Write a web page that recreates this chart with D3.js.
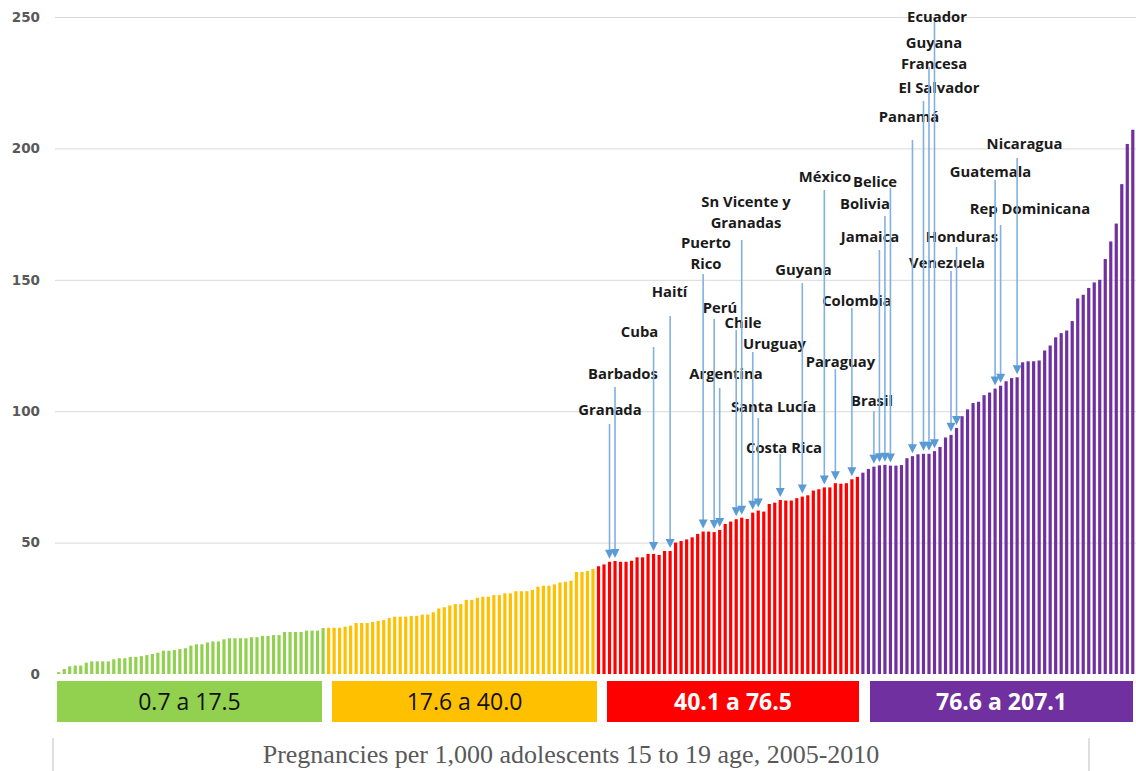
<!DOCTYPE html>
<html>
<head>
<meta charset="utf-8">
<script src="https://cdn.jsdelivr.net/npm/d3@7"></script>
<style>
  html, body { margin: 0; padding: 0; background: #fff; }
  svg { display: block; }
</style>
</head>
<body>
<svg id="chart" width="1136" height="771"></svg>
<script>
// ---------------- DATA ----------------
const groupNames = ["0.7 a 17.5", "17.6 a 40.0", "40.1 a 76.5", "76.6 a 207.1"];
const yTicks = [0, 50, 100, 150, 200, 250];

const greenValues = [0.7,1.9,2.9,3.2,3.2,4.3,4.8,4.8,4.8,4.8,5.6,6.0,6.0,6.5,6.5,6.8,7.2,7.6,8.1,8.9,8.9,9.1,9.5,9.8,
  10.8,11.3,11.3,12.0,12.4,12.4,13.2,13.6,13.6,13.6,13.6,14.0,14.0,14.5,14.5,14.8,14.8,16.0,16.0,16.0,16.0,16.5,16.5,16.5,17.5];
const yellowValues = [17.6,17.6,17.6,18.0,18.4,19.4,19.4,19.4,19.8,20.2,20.5,21.3,21.8,21.8,21.8,22.1,22.1,22.6,22.6,23.5,24.9,25.4,26.1,26.6,
  26.6,28.2,28.2,29.0,29.4,29.4,30.0,30.0,30.7,30.7,31.5,31.5,31.5,32.0,33.2,33.6,33.6,34.1,34.8,35.1,35.5,38.8,38.8,39.2,40.0];
const redValues = [41.0,41.7,42.7,43.0,42.7,42.7,43.1,44.4,44.4,45.7,45.7,45.3,46.8,46.8,50.0,50.6,51.2,52.0,53.3,54.2,54.2,54.0,54.8,57.1,
  58.0,58.9,59.5,59.0,61.4,62.2,61.8,64.7,65.2,66.2,66.0,66.0,66.9,67.5,68.0,69.8,70.3,71.0,71.0,72.6,72.4,72.6,74.1,75.0];
const purpleValues = [76.6,78.0,78.9,79.4,79.6,79.3,79.3,79.5,82.1,82.9,83.6,83.8,83.8,84.8,86.4,90.0,91.0,93.6,98.1,100.7,103.1,103.6,106.1,107.1,
  108.6,109.7,111.4,112.6,112.9,118.6,119.0,119.0,119.3,123.1,125.0,128.1,129.7,130.7,134.3,142.9,144.3,146.9,149.0,150.0,157.9,164.6,171.4,186.4,201.7,207.1];

// annotated countries (name lines) and the bar (rank index) they point at
const labelNames = [["Granada"],["Barbados"],["Cuba"],["Haití"],["Puerto","Rico"],["Perú"],["Chile"],["Sn Vicente y","Granadas"],
  ["Uruguay"],["Argentina"],["Santa Lucía"],["Costa Rica"],["Guyana"],["México"],["Paraguay"],["Colombia"],["Brasil"],
  ["Jamaica"],["Bolivia"],["Belice"],["Panamá"],["El Salvador"],["Guyana","Francesa"],["Ecuador"],["Venezuela"],["Honduras"],
  ["Guatemala"],["Rep Dominicana"],["Nicaragua"]];
const labelBars = [100,101,108,111,117,119,123,124,126,120,127,131,135,139,141,144,148,149,150,151,155,157,158,159,162,163,170,171,174];

const caption = "Pregnancies per 1,000 adolescents 15 to 19 age, 2005-2010";

// ---------------- LAYOUT / STYLE ----------------
const groupColors = ["#92d050", "#ffc000", "#ff0000", "#7030a0"];
const groupTextColors = ["#111", "#111", "#fff", "#fff"];
const groupTextWeights = [400, 400, 700, 700];
const boxSpans = [[57, 322], [332, 597], [607, 859], [870, 1133]];
// label layout: [centerX, first line centerY, arrow start Y]
const labelLayout = [
  [610,410,424],[623,374,387],[639.5,332,347],[669.5,292,316],[706,243,274],[720,308,319],[743,323,330],[746,202,240],
  [774.5,344,352],[726,374,388],[773.5,407,418],[784,448,454],[803.5,270,283],[825,177,190],[840.5,362,369],[857,301,308],
  [872,401,411],[870,237,250],[865,204,216],[875,182,188],[909,117,140],[939,88,101],[934,43,67],[937,17,22],
  [947,263,271],[962,237,247],[990.5,172,180],[1030,209,225],[1024.5,144,158]];

const svg = d3.select("#chart");

const groups = [greenValues, yellowValues, redValues, purpleValues];
const bars = [];
groups.forEach((vals, g) => vals.forEach(v => bars.push({ v, g })));
bars.forEach((d, i) => d.i = i);

const x = d3.scaleBand()
  .domain(bars.map(d => d.i))
  .range([55.95, 1135.55])
  .paddingInner(0.42)
  .paddingOuter(0.21);

const y = d3.scaleLinear().domain([0, 250]).range([674, 17]);

// gridlines + y axis
const yAxis = d3.axisLeft(y).tickValues(yTicks).tickSize(-(1136 - 55)).tickPadding(15);
const ga = svg.append("g").attr("transform", "translate(55,0)").call(yAxis);
ga.select(".domain").remove();
ga.selectAll(".tick line").attr("stroke", "#d9d9d9").attr("stroke-width", 1)
  .attr("opacity", d => d === 0 ? 0 : 1);
ga.selectAll(".tick text")
  .attr("fill", "#595959")
  .style("font-family", "'DejaVu Sans', sans-serif")
  .style("font-weight", "bold")
  .style("font-size", "13.5px");

// bars
svg.append("g").selectAll("rect").data(bars).join("rect")
  .attr("x", d => x(d.i))
  .attr("width", x.bandwidth())
  .attr("y", d => y(d.v))
  .attr("height", d => y(0) - y(d.v))
  .attr("fill", d => groupColors[d.g]);

// range boxes
const boxes = svg.append("g");
groupNames.forEach((name, g) => {
  const [x0, x1] = boxSpans[g];
  boxes.append("rect").attr("x", x0).attr("y", 681).attr("width", x1 - x0).attr("height", 41)
    .attr("fill", groupColors[g]);
  boxes.append("text").attr("x", (x0 + x1) / 2).attr("y", 702).attr("dy", "0.35em")
    .attr("text-anchor", "middle")
    .attr("fill", groupTextColors[g])
    .style("font-family", "'Open Sans', sans-serif")
    .style("font-size", "23px")
    .style("font-weight", groupTextWeights[g])
    .text(name);
});

// labels
const lab = svg.append("g");
labelNames.forEach((lines, k) => {
  const [cx, cy] = labelLayout[k];
  lines.forEach((t, j) => {
    lab.append("text").attr("x", cx).attr("y", cy + j * 21).attr("dy", "0.35em")
      .attr("text-anchor", "middle")
      .attr("fill", "#1a1a1a")
      .style("font-family", "'Open Sans', sans-serif")
      .style("font-weight", "700")
      .style("font-size", "14.8px")
      .text(t);
  });
});

// arrows
const arr = svg.append("g");
labelBars.forEach((bi, k) => {
  const cx = x(bi) + x.bandwidth() / 2;
  const y0 = labelLayout[k][2];
  const tip = y(bars[bi].v) - 3;
  const hh = 9, hw = 4.5;
  arr.append("line").attr("x1", cx).attr("x2", cx).attr("y1", y0).attr("y2", tip - hh + 1)
    .attr("stroke", "#82b1e0").attr("stroke-width", 1.6);
  arr.append("path")
    .attr("d", `M${cx - hw},${tip - hh}L${cx + hw},${tip - hh}L${cx},${tip}Z`)
    .attr("fill", "#5b9bd5");
});

// bottom caption and frame lines
svg.append("line").attr("x1", 53).attr("x2", 53).attr("y1", 738).attr("y2", 771).attr("stroke", "#bfbfbf");
svg.append("line").attr("x1", 1089).attr("x2", 1089).attr("y1", 738).attr("y2", 771).attr("stroke", "#bfbfbf");
svg.append("text").attr("x", 571).attr("y", 763)
  .attr("text-anchor", "middle")
  .attr("fill", "#595959")
  .style("font-family", "'Liberation Serif', 'Times New Roman', serif")
  .style("font-size", "26px")
  .text(caption);
</script>
</body>
</html>
